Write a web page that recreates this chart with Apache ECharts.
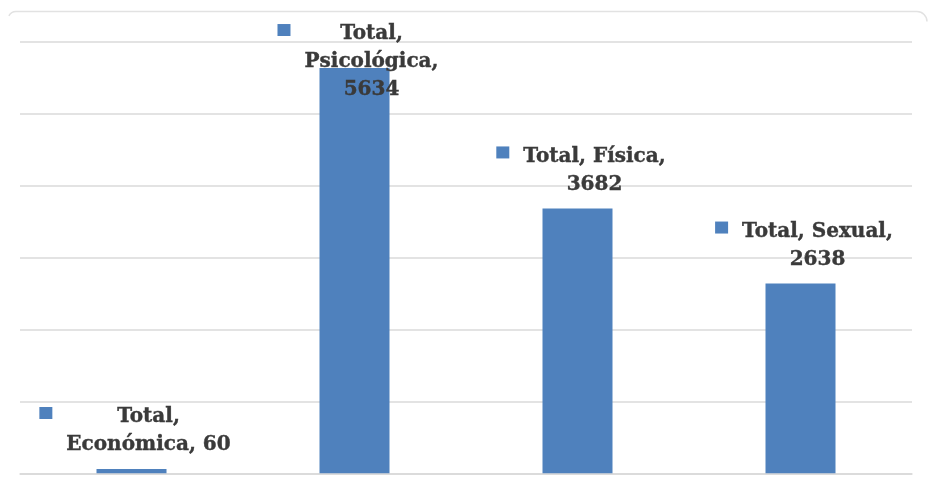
<!DOCTYPE html>
<html>
<head>
<meta charset="utf-8">
<script src="https://cdn.jsdelivr.net/npm/echarts@6/dist/echarts.min.js"></script>
<style>
html,body{margin:0;padding:0;background:#fff;}
#chart{width:928px;height:488px;}
</style>
</head>
<body>
<div id="chart"></div>
<script>
const seriesName = 'Total';
const categories = ['Económica', 'Psicológica', 'Física', 'Sexual'];
const values = [60, 5634, 3682, 2638];
const yTicks = [0, 1000, 2000, 3000, 4000, 5000, 6000];

// line breaks of each data label (after which text part a new line starts)
const breakAfter = [[0], [0, 1], [1], [1]];

function labelText(idx) {
  const parts = [seriesName + ',', categories[idx] + ',', String(values[idx])];
  const lines = [];
  let cur = [];
  parts.forEach((p, i) => {
    cur.push(p);
    if (breakAfter[idx].indexOf(i) >= 0 || i === parts.length - 1) {
      lines.push(cur.join(' '));
      cur = [];
    }
  });
  return lines.map((l, i) => {
    if (i === 0) return '{sq| }{g| }{t1|' + l + '}{rs| }';
    const st = (i === 1) ? 't2' : 't3';
    return '{ls| }{' + st + '|' + l + '}{rs| }';
  }).join('\n');
}

const chart = echarts.init(document.getElementById('chart'), null, {renderer: 'canvas'});
const font = {fontFamily: 'DejaVu Serif', fontWeight: 'bold', fontSize: 20, color: '#3a3a3a',
  textBorderColor: '#3a3a3a', textBorderWidth: 0.4, align: 'center'};
const borderStyle = {fill: null, stroke: '#e2e2e2', lineWidth: 1.5};

chart.setOption({
  animation: false,
  backgroundColor: '#ffffff',
  graphic: [
    {type: 'line', shape: {x1: 16, y1: 11.5, x2: 917, y2: 11.5}, style: borderStyle, silent: true},
    {type: 'arc', shape: {cx: 16, cy: 19.5, r: 8, startAngle: Math.PI * 1.15, endAngle: Math.PI * 1.5}, style: borderStyle, silent: true},
    {type: 'arc', shape: {cx: 917, cy: 21.5, r: 10, startAngle: Math.PI * 1.5, endAngle: Math.PI * 2}, style: borderStyle, silent: true}
  ],
  grid: {left: 20, right: 16, top: 41.7, bottom: 14.7, containLabel: false},
  xAxis: {
    type: 'category',
    data: categories,
    axisLine: {show: true, lineStyle: {color: '#d9d9d9', width: 1.5}},
    axisTick: {show: false},
    axisLabel: {show: false}
  },
  yAxis: {
    type: 'value',
    min: yTicks[0],
    max: yTicks[yTicks.length - 1],
    interval: yTicks[1] - yTicks[0],
    axisLine: {show: false},
    axisTick: {show: false},
    axisLabel: {show: false},
    splitLine: {lineStyle: {color: '#dadada', width: 1.5}}
  },
  series: [{
    name: seriesName,
    type: 'bar',
    barWidth: 70,
    itemStyle: {color: '#4F81BD'},
    data: values.map((v, i) => ({
      value: v,
      label: i === 1 ? {offset: [17, 38]} : {}
    })),
    label: {
      show: true,
      position: 'top',
      distance: 6,
      offset: [17, 0],
      formatter: p => labelText(p.dataIndex),
      rich: {
        t1: Object.assign({lineHeight: 20}, font),
        t2: Object.assign({lineHeight: 36}, font),
        t3: Object.assign({lineHeight: 20}, font),
        sq: {width: 13, height: 12, backgroundColor: '#4F81BD', align: 'left', verticalAlign: 'top', lineHeight: 20, fontSize: 10},
        g: {width: 14, align: 'left', lineHeight: 10, fontSize: 10},
        ls: {width: 27, align: 'left', lineHeight: 10, fontSize: 10},
        rs: {width: 27, align: 'right', lineHeight: 10, fontSize: 10}
      }
    }
  }]
});
</script>
</body>
</html>
